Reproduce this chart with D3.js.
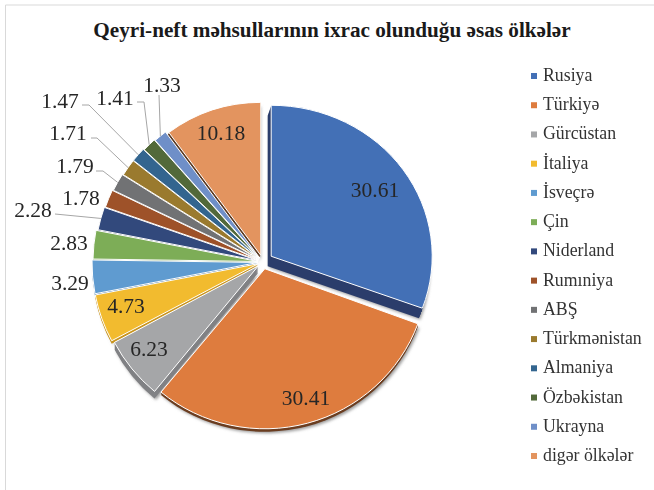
<!DOCTYPE html>
<html>
<head>
<meta charset="utf-8">
<script src="https://cdn.jsdelivr.net/npm/d3@7"></script>
<style>
html, body { margin: 0; padding: 0; background: #fff; }
svg { display: block; font-family: "Liberation Serif", serif; }
</style>
</head>
<body>
<svg id="chart" width="654" height="490"></svg>
<script>
// Data
const countries = ['Rusiya', 'Türkiyə', 'Gürcüstan', 'İtaliya', 'İsveçrə', 'Çin', 'Niderland',
    'Rumıniya', 'ABŞ', 'Türkmənistan', 'Almaniya', 'Özbəkistan', 'Ukrayna', 'digər ölkələr'];
const shares = [30.61, 30.41, 6.23, 4.73, 3.29, 2.83, 2.28, 1.78, 1.79, 1.71, 1.47, 1.41, 1.33, 10.18];
const colors = ['#4370b6', '#de7c3e', '#a5a6a8', '#f2bb2f', '#5f9bd0', '#7dad57', '#32497c',
    '#9e5229', '#717274', '#9a7a2e', '#33658f', '#52693a', '#6f8fc8', '#e3945f'];
const wallColors = ['#2b3d6b', '#6b3d20', '#808184', '#c9951f', '#3c6f9f', '#5f8a3e', '#26375f',
    '#74391b', '#555658', '#75591c', '#234a6b', '#3c4e2a', '#5674a8', '#5c3a22'];

// Layout, the pie is a tilted 3D one in the original so each slice gets its own size
const center = { x: 263, y: 262 };
const radiusX = [161, 163, 163, 166, 166, 165, 163, 162, 161, 160, 160, 159, 158, 154];
const radiusY = [151, 160, 163, 164, 164, 163, 162, 161, 160, 159, 159, 158, 157, 153];
const pull = [10, 7, 6, 5, 5, 5, 5, 5, 5, 5, 5, 5, 5, 7];
const wall = [10, 3, 7, 3, 2, 1, 1, 1, 1, 1, 1, 1, 1, 3];
const wallLean = [-0.35, 0, 0, 0, 0, 0, 0, 0, 0, 0, 0, 0, 0, -0.5];
const labelPos = [
    [375, 197], [306, 405], [149, 356], [126, 313], [70, 290], [69, 250], [33, 217],
    [81, 205], [75, 173], [68, 140], [60, 108], [115, 105], [162, 92], [221, 140]
];
// Leader lines: label side points, the last point comes from the slice itself
const leaders = new Map([
    [6, [[55, 214]]],
    [8, [[96, 171], [103, 171]]],
    [9, [[91, 138], [97, 138]]],
    [10, [[82, 105], [89, 105]]],
    [11, [[137, 102], [144, 102]]],
    [12, [[159, 95]]]
]);

const svg = d3.select('#chart');

// Frame
svg.append('path')
    .attr('d', 'M654,5H5.5V490')
    .attr('fill', 'none')
    .attr('stroke', '#d9d9d9');

// Title
svg.append('text')
    .attr('x', 332)
    .attr('y', 37)
    .attr('text-anchor', 'middle')
    .style('font-size', '21.2px')
    .style('font-weight', 'bold')
    .style('fill', '#1a1a1a')
    .text('Qeyri-neft məhsullarının ixrac olunduğu əsas ölkələr');

svg.append('defs').append('filter')
    .attr('id', 'soft')
    .attr('x', '-10%').attr('y', '-10%').attr('width', '120%').attr('height', '120%')
    .append('feGaussianBlur')
    .attr('stdDeviation', 1.6);

const slices = d3.pie().sort(null)(shares);
const arc = d3.arc().innerRadius(0).outerRadius(1);

// Apex of a slice, pushed out along its mid angle
function apex(d, i) {
    const mid = (d.startAngle + d.endAngle) / 2;
    return [center.x + Math.sin(mid) * pull[i], center.y - Math.cos(mid) * pull[i]];
}
function sliceTransform(d, i, dx = 0, dy = 0) {
    const [x, y] = apex(d, i);
    return `translate(${x + dx},${y + dy}) scale(${radiusX[i]},${radiusY[i]})`;
}

const pie = svg.append('g');

// Soft shadow
pie.append('g')
    .attr('filter', 'url(#soft)')
    .selectAll('path')
    .data(slices)
    .enter()
    .append('path')
    .attr('d', arc)
    .attr('transform', (d, i) => sliceTransform(d, i, 1.5 + wall[i] * wallLean[i], wall[i] + 1.5))
    .attr('fill', '#8b8b8b')
    .attr('opacity', (d, i) => i < 3 || i === 13 ? 0.85 : 0.35);

// Side walls, a stack of copies pushed down
slices.forEach((d, i) => {
    d3.range(1, wall[i] + 1).forEach(k => {
        pie.append('path')
            .attr('d', arc(d))
            .attr('transform', sliceTransform(d, i, k * wallLean[i], k))
            .attr('fill', wallColors[i]);
    });
});

// Top faces
pie.selectAll('.slice')
    .data(slices)
    .enter()
    .append('path')
    .attr('class', 'slice')
    .attr('d', arc)
    .attr('transform', (d, i) => sliceTransform(d, i))
    .attr('fill', (d, i) => colors[i])
    .attr('stroke', '#fff')
    .style('stroke-width', '1px')
    .style('vector-effect', 'non-scaling-stroke');

// Leader lines
leaders.forEach((points, i) => {
    const d = slices[i];
    const mid = (d.startAngle + d.endAngle) / 2;
    const [x, y] = apex(d, i);
    const end = [x + Math.sin(mid) * radiusX[i], y - Math.cos(mid) * radiusY[i]];
    svg.append('polyline')
        .attr('points', [...points, end].map(p => p.join(',')).join(' '))
        .attr('fill', 'none')
        .attr('stroke', '#a6a6a6')
        .attr('stroke-width', 1);
});

// Value labels
svg.selectAll('.value')
    .data(shares)
    .enter()
    .append('text')
    .attr('class', 'value')
    .attr('x', (d, i) => labelPos[i][0])
    .attr('y', (d, i) => labelPos[i][1])
    .attr('text-anchor', 'middle')
    .style('font-size', '21.5px')
    .style('fill', '#262626')
    .text(d => d.toFixed(2));

// Legend
const legendY = d3.scalePoint()
    .domain(countries)
    .range([76, 456]);

const legend = svg.selectAll('.legend')
    .data(countries)
    .enter()
    .append('g')
    .attr('class', 'legend')
    .attr('transform', d => `translate(531,${legendY(d)})`);

legend.append('rect')
    .attr('y', -3)
    .attr('width', 6)
    .attr('height', 6)
    .attr('fill', (d, i) => colors[i]);

legend.append('text')
    .attr('x', 12)
    .attr('y', 5)
    .style('font-size', '17.8px')
    .style('fill', '#333')
    .text(d => d);
</script>
</body>
</html>
